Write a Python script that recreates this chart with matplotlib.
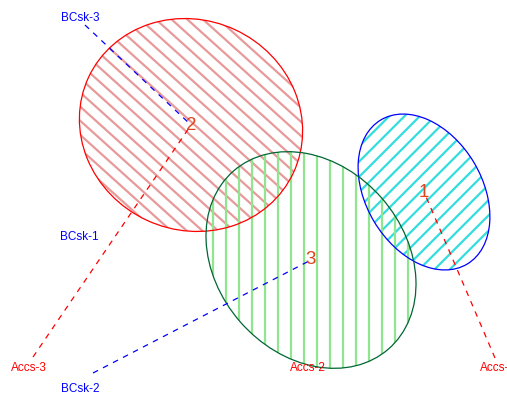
import numpy as np
import matplotlib
matplotlib.use("Agg")
import matplotlib.pyplot as plt
from matplotlib.patches import Ellipse
from matplotlib.collections import LineCollection

plt.rcParams['font.family'] = ['Liberation Sans', 'DejaVu Sans']

# Cluster ellipses (plot units, y grows downward)
clusters = ['1', '2', '3']
center_x = [424, 191, 311]
center_y = [192, 125, 260]
semi_major = [84, 113, 118]
semi_minor = [58, 105, 94]
tilt_deg = [59, 25, 49]
border_colors = ['#0000ff', '#ff0000', '#006633']
shade_colors = ['#33dddd', '#e89a9a', '#8fe68f']
shade_angle = [-45, 42, 90]
shade_spacing = [10.8, 10.5, 13.0]

# Variable labels and the cluster each one links to
var_labels = ['BCsk-3', 'Accs-3', 'BCsk-2', 'Accs-1', 'BCsk-1', 'Accs-2']
var_x = [80, 29, 80, 498, 79, 308]
var_y = [18, 368, 389, 368, 237, 368]
var_colors = ['#0000ff', '#ff0000', '#0000ff', '#ff0000', '#0000ff', '#ff0000']
link_cluster = [1, 1, 2, 0, None, None]
link_end_x = [85, 33, 93, 495, None, None]
link_end_y = [25, 357, 373, 358, None, None]

fig = plt.figure(figsize=(5.07, 3.94), dpi=100)
ax = fig.add_axes([0, 0, 1, 1])
ax.set_xlim(0, 507)
ax.set_ylim(394, 0)
ax.axis('off')

# shading lines clipped to each ellipse
for i in range(len(clusters)):
    cx, cy = center_x[i], center_y[i]
    ell = Ellipse((cx, cy), 2 * semi_major[i], 2 * semi_minor[i],
                  angle=tilt_deg[i], facecolor='none', edgecolor='none')
    ax.add_patch(ell)
    th = np.deg2rad(shade_angle[i])
    d = np.array([np.cos(th), np.sin(th)])
    n = np.array([-d[1], d[0]])
    r = semi_major[i] + 5
    offs = np.arange(-r, r + 0.1, shade_spacing[i])
    segs = [[(cx + o * n[0] - r * d[0], cy + o * n[1] - r * d[1]),
             (cx + o * n[0] + r * d[0], cy + o * n[1] + r * d[1])] for o in offs]
    lc = LineCollection(segs, colors=shade_colors[i], linewidths=1.6, zorder=1)
    ax.add_collection(lc)
    lc.set_clip_path(ell)

for i in range(len(clusters)):
    ax.add_patch(Ellipse((center_x[i], center_y[i]), 2 * semi_major[i], 2 * semi_minor[i],
                         angle=tilt_deg[i], facecolor='none',
                         edgecolor=border_colors[i], linewidth=0.9, zorder=2))

# dashed links from cluster centres to variable labels
for k in range(len(var_labels)):
    c = link_cluster[k]
    if c is None:
        continue
    ax.plot([link_end_x[k], center_x[c]], [link_end_y[k], center_y[c]],
            color=var_colors[k], linewidth=0.9, dashes=(4.5, 4.5), zorder=3)

for k in range(len(var_labels)):
    ax.text(var_x[k], var_y[k], var_labels[k], color=var_colors[k], fontsize=8.5,
            ha='center', va='center', zorder=4)

for i in range(len(clusters)):
    ax.text(center_x[i], center_y[i], clusters[i], color='#e0441e', fontsize=13.5,
            ha='center', va='center', zorder=4)

fig.savefig('out.png', dpi=100)
